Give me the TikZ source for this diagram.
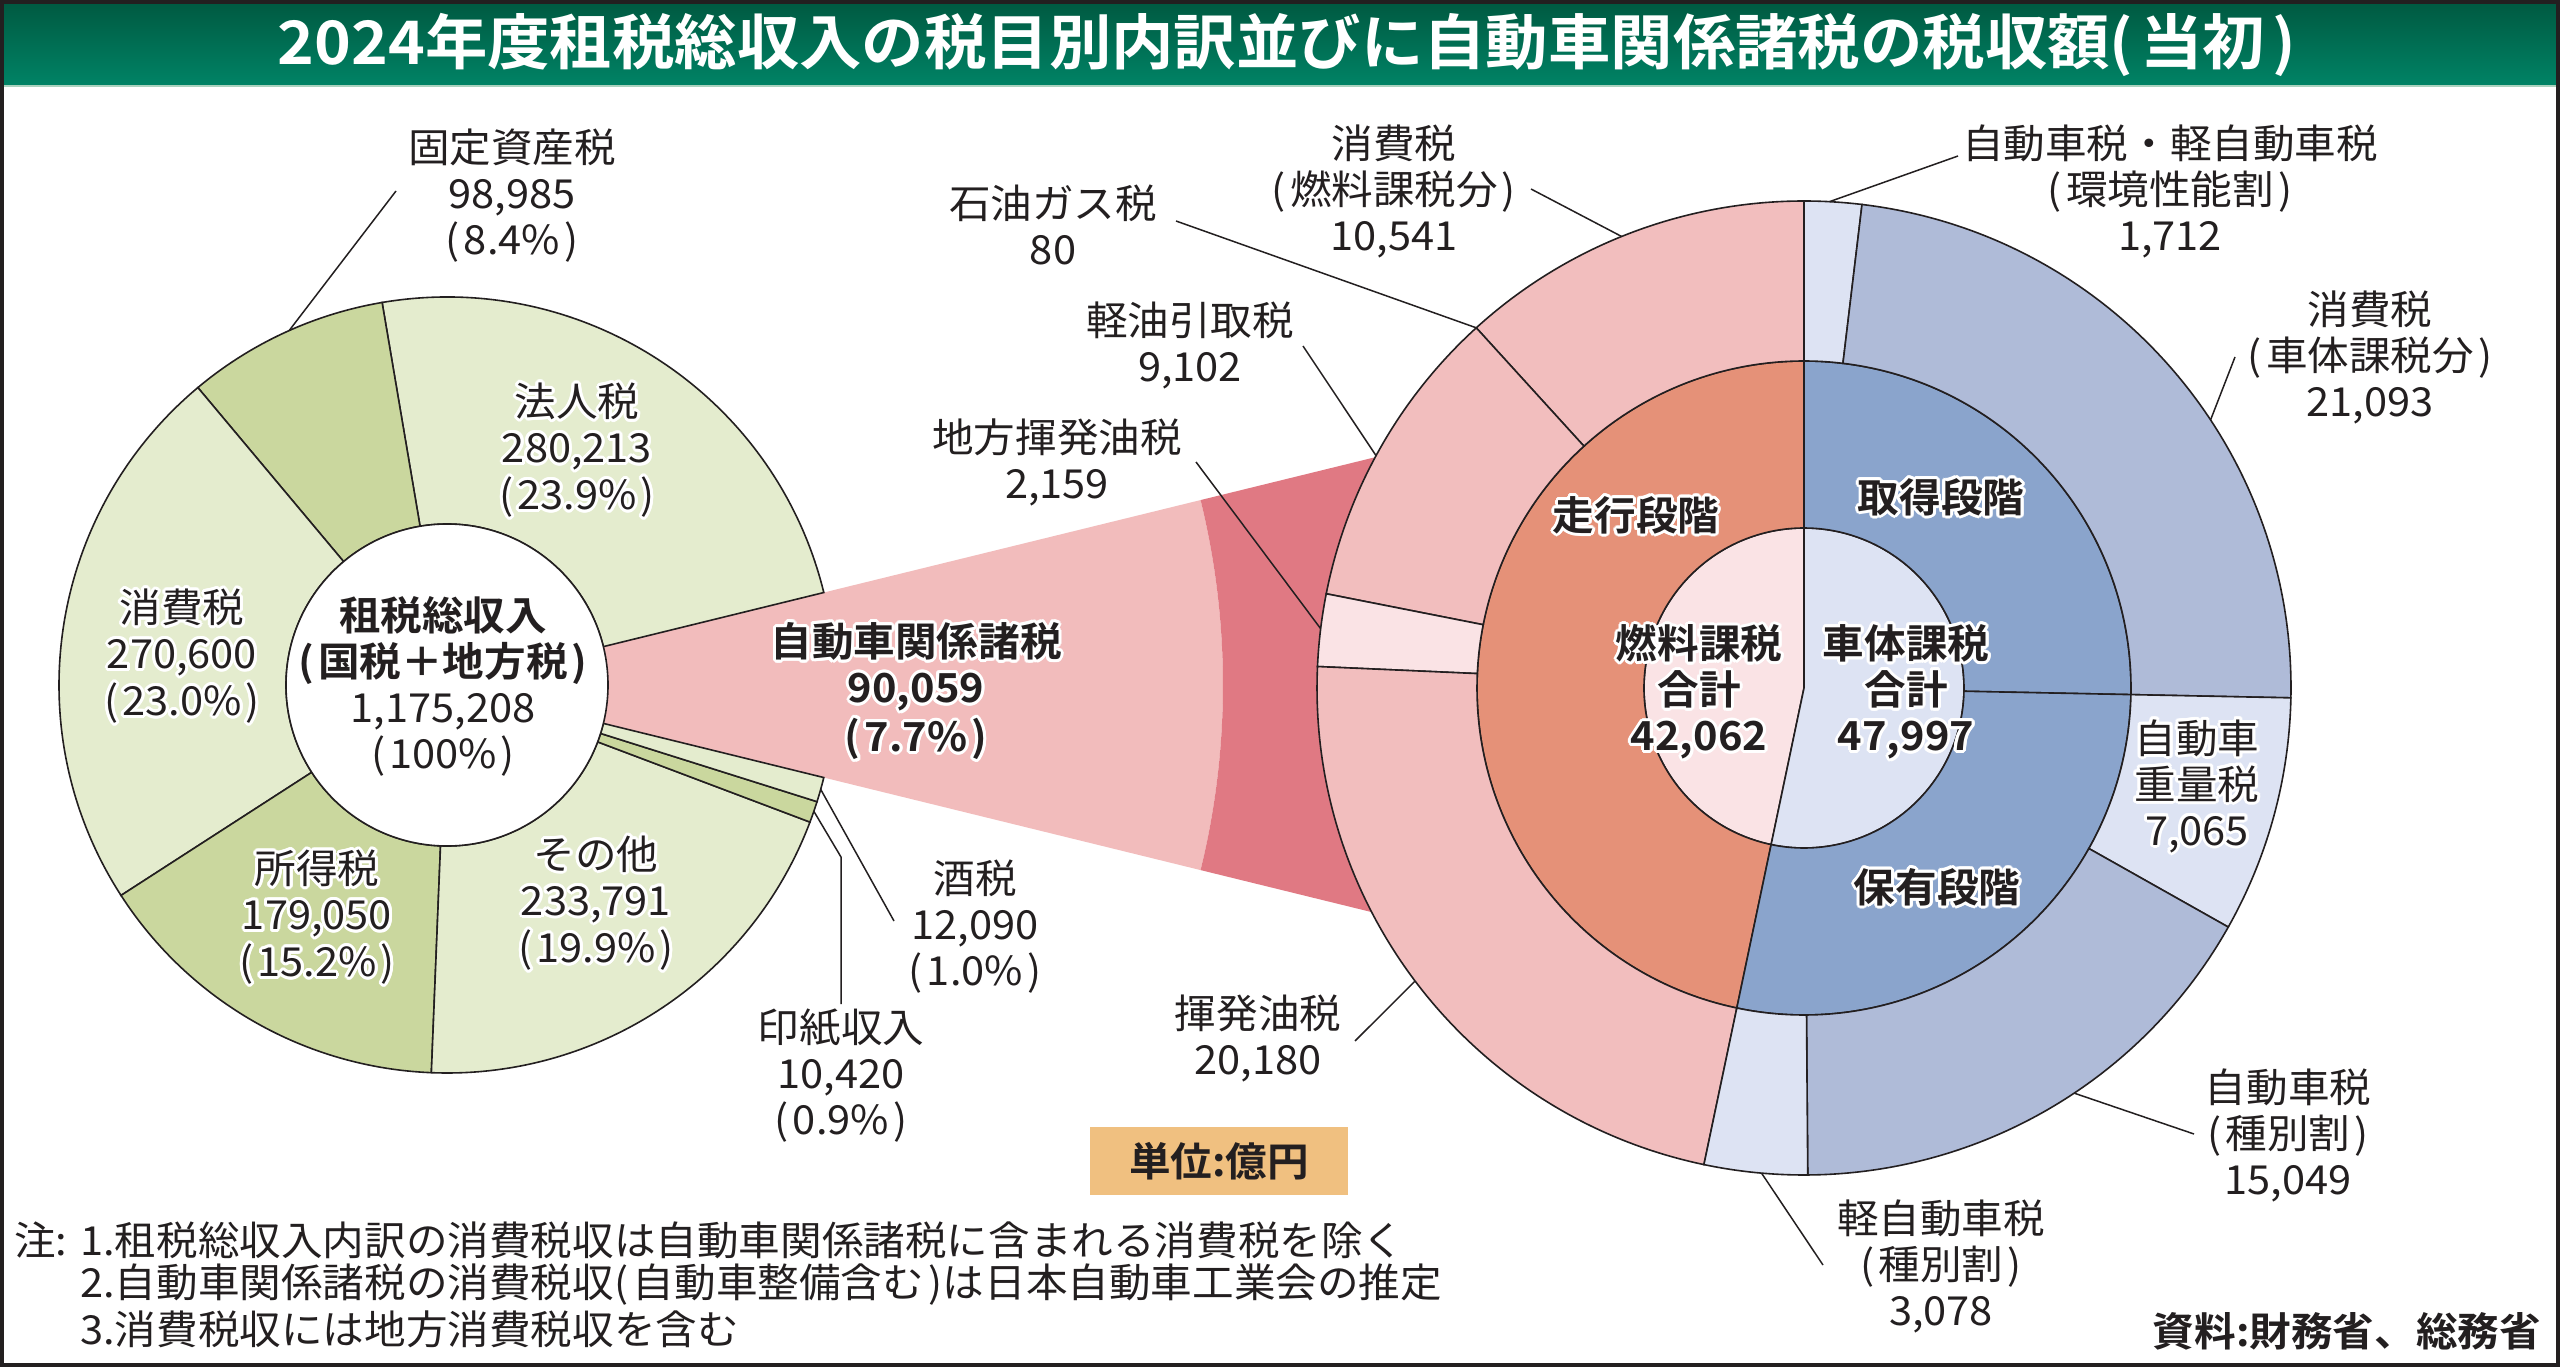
\documentclass[tikz,border=0pt]{standalone}
\usepackage{fontspec}
\newfontfamily\jp[FakeStretch=1.04,BoldFont={* Bold}]{Noto Sans CJK JP}
\usetikzlibrary{calc}
\definecolor{ink}{RGB}{35,31,32}
\definecolor{lgreen}{RGB}{228,236,206}
\definecolor{dgreen}{RGB}{202,215,158}
\definecolor{fpink}{RGB}{242,188,188}
\definecolor{dpink}{RGB}{224,121,131}
\definecolor{opink}{RGB}{242,190,190}
\definecolor{lpink}{RGB}{250,227,229}
\definecolor{orng}{RGB}{229,145,120}
\definecolor{mblue}{RGB}{138,164,204}
\definecolor{oblue}{RGB}{175,187,216}
\definecolor{lblue}{RGB}{221,227,243}
\definecolor{unitc}{RGB}{240,192,128}
\definecolor{gtop}{RGB}{0,88,64}
\definecolor{gbot}{RGB}{0,132,102}
\newcommand\hwc[2]{\rlap{\kern#1\raise#2\copy0}}
\newcommand\hw[1]{{\setbox0=\hbox{#1}\leavevmode
  {\color{white}%
   \hwc{3pt}{0pt}\hwc{-3pt}{0pt}\hwc{0pt}{3pt}\hwc{0pt}{-3pt}%
   \hwc{2.1pt}{2.1pt}\hwc{-2.1pt}{2.1pt}\hwc{2.1pt}{-2.1pt}\hwc{-2.1pt}{-2.1pt}%
   \hwc{2.8pt}{1.1pt}\hwc{-2.8pt}{1.1pt}\hwc{2.8pt}{-1.1pt}\hwc{-2.8pt}{-1.1pt}%
   \hwc{1.1pt}{2.8pt}\hwc{-1.1pt}{2.8pt}\hwc{1.1pt}{-2.8pt}\hwc{-1.1pt}{-2.8pt}}%
  \box0}}
% ring segment: center, r_in, r_out, a1, a2, style
\newcommand\ringseg[6]{\filldraw[#6] ([shift={(#4:#3)}]#1) arc[start angle=#4,end angle=#5,radius=#3] -- ([shift={(#5:#2)}]#1) arc[start angle=#5,end angle=#4,radius=#2] -- cycle;}
\newcommand\pieseg[5]{\filldraw[#5] (#1) -- ([shift={(#3:#2)}]#1) arc[start angle=#3,end angle=#4,radius=#2] -- cycle;}
\tikzset{
  seg/.style={draw=ink,line width=1.6pt},
  lbl/.style={font=\jp\fontsize{40}{46}\selectfont,text=ink,align=center,inner sep=0pt},
  blbl/.style={font=\jp\bfseries\fontsize{40}{46}\selectfont,text=ink,align=center,inner sep=0pt},
  leader/.style={draw=ink,line width=1.5pt},
  ttl/.style={font=\jp\bfseries\fontsize{60}{66}\selectfont,text=white,inner sep=0pt},
  unitbox/.style={fill=unitc,minimum width=258pt,minimum height=68pt,inner sep=0pt,font=\jp\bfseries\fontsize{40}{46}\selectfont,text=ink},
}
\begin{document}
\begin{tikzpicture}[x=1pt,y=1pt]
\useasboundingbox (0,0) rectangle (2560,-1367);
\fill[white] (0,0) rectangle (2560,-1367);
% title bar
\shade[top color=gtop,bottom color=gbot] (0,0) rectangle (2560,-87);
\draw[line width=2pt,color={rgb,255:red,170;green,210;blue,190}] (0,-86) -- (2560,-86);
\node[ttl] (title) at (1287,-45) {2024年度租税総収入の税目別内訳並びに自動車関係諸税の税収額(\kern.12em当初\kern.12em)};

\coordinate (L) at (447,-685);
\coordinate (Rc) at (1804,-688);

% funnel
\fill[fpink] ([shift={(-13.8:161)}]L) arc[start angle=-13.8,end angle=13.79,radius=161] -- ([shift={(13.79:776)}]L) arc[start angle=13.79,end angle=-13.8,radius=776] -- cycle;
\fill[dpink] ([shift={(-13.8:776)}]L) arc[start angle=-13.8,end angle=13.79,radius=776] -- ([shift={(13.79:1000)}]L) arc[start angle=13.79,end angle=-13.8,radius=1000] -- cycle;

% left donut
\ringseg{L}{161}{388}{13.79}{99.63}{seg,fill=lgreen}
\ringseg{L}{161}{388}{99.63}{129.95}{seg,fill=dgreen}
\ringseg{L}{161}{388}{129.95}{212.84}{seg,fill=lgreen}
\ringseg{L}{161}{388}{212.84}{267.69}{seg,fill=dgreen}
\ringseg{L}{161}{388}{267.69}{339.31}{seg,fill=lgreen}
\ringseg{L}{161}{388}{339.31}{342.50}{seg,fill=dgreen}
\ringseg{L}{161}{388}{342.50}{346.20}{seg,fill=lgreen}
\filldraw[seg,fill=white] (L) circle[radius=161];

% right donut: inner
\pieseg{Rc}{160}{90}{258.14}{seg,fill=lpink}
\pieseg{Rc}{160}{-101.86}{90}{seg,fill=lblue}
% middle
\ringseg{Rc}{160}{327}{90}{258.14}{seg,fill=orng}
\ringseg{Rc}{160}{327}{-1.16}{90}{seg,fill=mblue}
\ringseg{Rc}{160}{327}{-101.86}{-1.16}{seg,fill=mblue}
% outer fuel
\ringseg{Rc}{327}{487}{90}{132.3}{seg,fill=opink}
\ringseg{Rc}{327}{487}{132.3}{168.84}{seg,fill=opink}
\ringseg{Rc}{327}{487}{168.84}{177.47}{seg,fill=lpink}
\ringseg{Rc}{327}{487}{177.47}{258.14}{seg,fill=opink}
% outer vehicle
\ringseg{Rc}{327}{487}{83.16}{90}{seg,fill=lblue}
\ringseg{Rc}{327}{487}{-1.16}{83.16}{seg,fill=oblue}
\ringseg{Rc}{327}{487}{-29.40}{-1.16}{seg,fill=lblue}
\ringseg{Rc}{327}{487}{-89.56}{-29.40}{seg,fill=oblue}
\ringseg{Rc}{327}{487}{-101.86}{-89.56}{seg,fill=lblue}

% leader coordinates
\coordinate (kotei-a) at (396,-191);   \coordinate (kotei-b) at ([shift={(114:388)}]L);
\coordinate (shu-a) at (894,-921);     \coordinate (shu-b) at ([shift={(344.4:388)}]L);
\coordinate (inshi-a) at (841,-1004);  \coordinate (inshi-k) at (841,-857); \coordinate (inshi-b) at ([shift={(341:388)}]L);
\coordinate (sekiyu-a) at (1176,-221); \coordinate (sekiyu-b) at ([shift={(132.3:487)}]Rc);
\coordinate (shF-a) at (1531,-189);    \coordinate (shF-b) at ([shift={(112:487)}]Rc);
\coordinate (keiyu-a) at (1303,-346);  \coordinate (keiyu-b) at ([shift={(151.5:487)}]Rc);
\coordinate (chiho-a) at (1196,-462);  \coordinate (chiho-b) at ([shift={(173:487)}]Rc);
\coordinate (kiha-a) at (1355,-1041);  \coordinate (kiha-b) at ([shift={(217:487)}]Rc);
\coordinate (kank-a) at (1958,-156);   \coordinate (kank-b) at ([shift={(87:487)}]Rc);
\coordinate (shV-a) at (2235,-357);    \coordinate (shV-b) at ([shift={(33.4:487)}]Rc);
\coordinate (jds-a) at (2194,-1134);   \coordinate (jds-b) at ([shift={(-56.3:487)}]Rc);
\coordinate (kei-a) at (1823,-1265);   \coordinate (kei-b) at ([shift={(-95:487)}]Rc);

\draw[leader] (kotei-a) -- (kotei-b);
\draw[leader] (shu-a) -- (shu-b);
\draw[leader] (inshi-a) -- (inshi-k) -- (inshi-b);
\draw[leader] (sekiyu-a) -- (sekiyu-b);
\draw[leader] (shF-a) -- (shF-b);
\draw[leader] (keiyu-a) -- (keiyu-b);
\draw[leader] (chiho-a) -- (chiho-b);
\draw[leader] (kiha-a) -- (kiha-b);
\draw[leader] (kank-a) -- (kank-b);
\draw[leader] (shV-a) -- (shV-b);
\draw[leader] (jds-a) -- (jds-b);
\draw[leader] (kei-a) -- (kei-b);

% left labels
\node[lbl] (houjin) at (577,-450) {\hw{法人税}\\\hw{280,213}\\\hw{(\kern.1em23.9\%\kern.1em)}};
\node[lbl] (shouhi) at (182,-656) {\hw{消費税}\\\hw{270,600}\\\hw{(\kern.1em23.0\%\kern.1em)}};
\node[lbl] (shotoku) at (317,-917) {\hw{所得税}\\\hw{179,050}\\\hw{(\kern.1em15.2\%\kern.1em)}};
\node[lbl] (sonota) at (596,-903) {\hw{その他}\\\hw{233,791}\\\hw{(\kern.1em19.9\%\kern.1em)}};
\node[lbl] (sozei) at (443,-686) {{\bfseries 租税総収入}\\{\bfseries (\kern.1em国税＋地方税\kern.1em)}\\{1,175,208}\\{(\kern.1em100\%\kern.1em)}};
\node[blbl] (jidousha) at (916,-691) {\hw{自動車関係諸税}\\\hw{90,059}\\\hw{(\kern.1em7.7\%\kern.1em)}};
\node[lbl] (kotei) at (512,-196) {固定資産税\\98,985\\(\kern.1em8.4\%\kern.1em)};
\node[lbl] (shuzei) at (975,-927) {酒税\\12,090\\(\kern.1em1.0\%\kern.1em)};
\node[lbl] (inshi) at (841,-1076) {印紙収入\\10,420\\(\kern.1em0.9\%\kern.1em)};

% right labels
\node[lbl] (sekiyu) at (1053,-225) {石油ガス税\\80};
\node[lbl] (shouhiF) at (1394,-191) {消費税\\(\kern.1em燃料課税分\kern.1em)\\10,541};
\node[lbl] (keiyu) at (1190,-345) {軽油引取税\\9,102};
\node[lbl] (chihou) at (1057,-462) {地方揮発油税\\2,159};
\node[lbl] (kihatsu) at (1258,-1038) {揮発油税\\20,180};
\node[lbl] (kankyo) at (2170,-191) {自動車税・軽自動車税\\(\kern.1em環境性能割\kern.1em)\\1,712};
\node[lbl] (shouhiV) at (2370,-357) {消費税\\(\kern.1em車体課税分\kern.1em)\\21,093};
\node[lbl] (jidoushazei) at (2288,-1135) {自動車税\\(\kern.1em種別割\kern.1em)\\15,049};
\node[lbl] (keijidousha) at (1941,-1266) {軽自動車税\\(\kern.1em種別割\kern.1em)\\3,078};
\node[lbl] (juryo) at (2197,-786) {\hw{自動車}\\\hw{重量税}\\\hw{7,065}};
\node[blbl] (soukou) at (1636,-515) {\hw{走行段階}};
\node[blbl] (shutoku) at (1941,-497) {\hw{取得段階}};
\node[blbl] (hoyuu) at (1937,-887) {\hw{保有段階}};
\node[blbl] (nenryo) at (1699,-692) {\hw{燃料課税}\\\hw{合計}\\\hw{42,062}};
\node[blbl] (shatai) at (1906,-692) {\hw{車体課税}\\\hw{合計}\\\hw{47,997}};

% unit box, notes, source
\node[unitbox] (unit) at (1219,-1161) {単位:億円};
\node[lbl,anchor=west] (note0) at (14,-1240) {注:};
\node[lbl,anchor=west] (note1) at (80,-1240) {1.租税総収入内訳の消費税収は自動車関係諸税に含まれる消費税を除く};
\node[lbl,anchor=west] (note2) at (80,-1285) {2.自動車関係諸税の消費税収(\kern.12em自動車整備含む\kern.12em)は日本自動車工業会の推定};
\node[lbl,anchor=west] (note3) at (80,-1329) {3.消費税収には地方消費税収を含む};
\node[blbl,anchor=east] (source) at (2541,-1331) {資料:財務省、総務省};

% frame
\draw[line width=4pt,color=ink] (2,-2) rectangle (2558,-1365);
\end{tikzpicture}
\end{document}
